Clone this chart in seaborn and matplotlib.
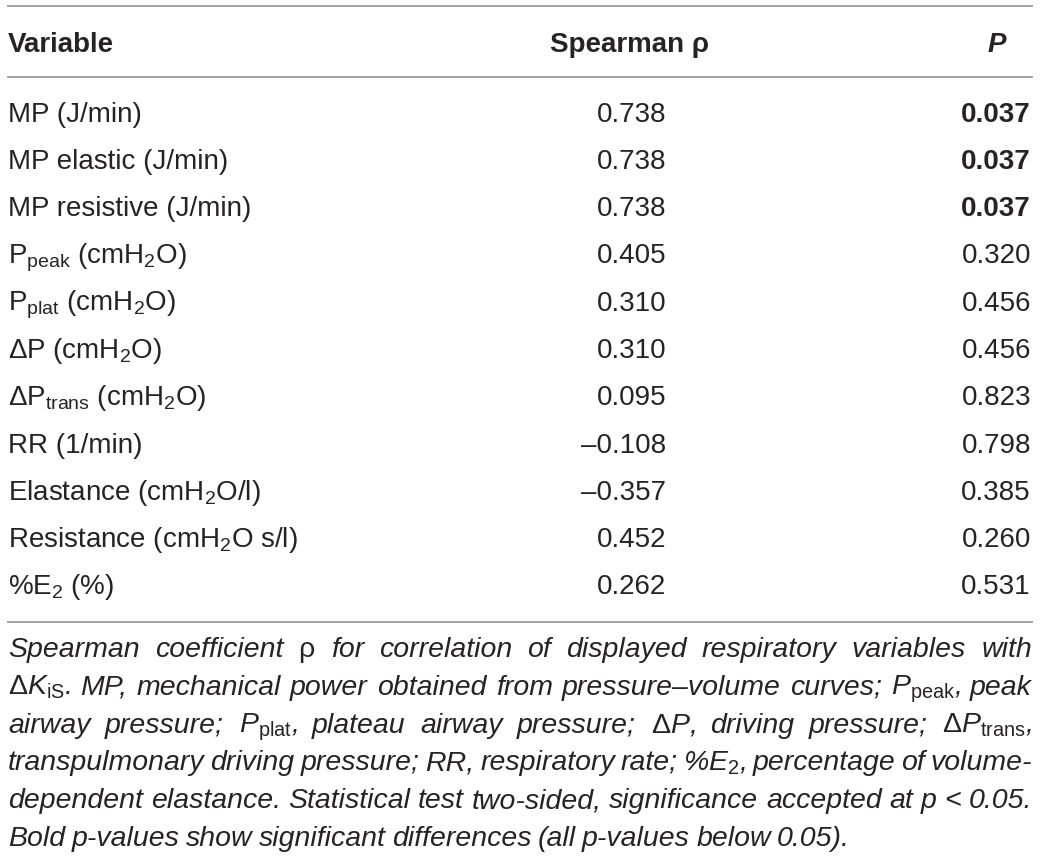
import matplotlib
matplotlib.use("Agg")
import matplotlib.pyplot as plt
import seaborn as sns
import pandas as pd
from matplotlib import font_manager

# ---------------- data ----------------
variables = [
    "MP (J/min)",
    "MP elastic (J/min)",
    "MP resistive (J/min)",
    r"P$_{\mathrm{peak}}$ (cmH$_2$O)",
    r"P$_{\mathrm{plat}}$ (cmH$_2$O)",
    r"$\mathrm{\Delta}$P (cmH$_2$O)",
    r"$\mathrm{\Delta}$P$_{\mathrm{trans}}$ (cmH$_2$O)",
    "RR (1/min)",
    r"Elastance (cmH$_2$O/l)",
    r"Resistance (cmH$_2$O s/l)",
    r"%E$_2$ (%)",
]
spearman = ["0.738", "0.738", "0.738", "0.405", "0.310", "0.310", "0.095",
            "\u20130.108", "\u20130.357", "0.452", "0.262"]
p_values = ["0.037", "0.037", "0.037", "0.320", "0.456", "0.456", "0.823",
            "0.798", "0.385", "0.260", "0.531"]
headers = ["Variable", "Spearman \u03c1", "P"]

caption_lines = [
    "Spearman coefficient $\\mathrm{\\rho}$ for correlation of displayed respiratory variables with",
    "$\\mathrm{\\Delta}$K$_{\\mathrm{iS}}$. MP, mechanical power obtained from pressure\u2013volume curves; P$_{\\mathrm{peak}}$, peak",
    "airway pressure; P$_{\\mathrm{plat}}$, plateau airway pressure; $\\mathrm{\\Delta}$P, driving pressure; $\\mathrm{\\Delta}$P$_{\\mathrm{trans}}$,",
    "transpulmonary driving pressure; RR, respiratory rate; %E$_2$, percentage of volume-",
    "dependent elastance. Statistical test two-sided, significance accepted at p < 0.05.",
    "Bold p-values show significant differences (all p-values below 0.05).",
]

df = pd.DataFrame({"variable": variables, "rho": spearman, "p": p_values})

# ---------------- style ----------------
sns.set_theme(style="white")
installed = {f.name for f in font_manager.fontManager.ttflist}
body_font = "Liberation Sans" if "Liberation Sans" in installed else "DejaVu Sans"
cap_font = body_font
plt.rcParams["font.family"] = [body_font, "DejaVu Sans"]
plt.rcParams["mathtext.fontset"] = "custom"
plt.rcParams["mathtext.rm"] = body_font
plt.rcParams["mathtext.it"] = body_font + ":italic"
plt.rcParams["mathtext.bf"] = body_font + ":bold"

TXT = "#262324"
RULE = "#9b9b9b"
W, H = 1041, 857
fig = plt.figure(figsize=(W / 100, H / 100), dpi=100)
ax = fig.add_axes([0, 0, 1, 1])
ax.set_xlim(0, W)
ax.set_ylim(H, 0)
ax.axis("off")

FS = 20
X_LEFT, X_RHO, X_P = 8, 666, 1031
X_RHO_HEAD, X_P_HEAD = 630, 997

# rules
for y in (6, 77, 622):
    ax.plot([7, 1033], [y, y], color=RULE, lw=1.3, solid_capstyle="butt")

# header
ax.text(X_LEFT, 51.5, headers[0], fontsize=FS, fontweight="bold", color=TXT, va="baseline", ha="left")
ax.text(X_RHO_HEAD, 51.5, headers[1], fontsize=FS, fontweight="bold", color=TXT, va="baseline", ha="center")
ax.text(X_P_HEAD, 51.5, headers[2], fontsize=FS, fontweight="bold", fontstyle="italic", color=TXT,
        va="baseline", ha="center")

# rows
for i, row in df.iterrows():
    yb = 121.5 + 47.3 * i
    ax.text(X_LEFT, yb, row["variable"], fontsize=FS, color=TXT, va="baseline", ha="left")
    ax.text(X_RHO, yb, row["rho"], fontsize=FS, color=TXT, va="baseline", ha="right")
    bold = float(row["p"]) < 0.05
    ax.text(X_P, yb, row["p"], fontsize=FS, color=TXT, va="baseline", ha="right",
            fontweight="bold" if bold else "normal")

# caption, justified
renderer = fig.canvas.get_renderer()


def width_of(s, size):
    t = ax.text(0, 0, s, fontsize=size, fontstyle="italic", family=[cap_font, "DejaVu Sans"])
    bb = t.get_window_extent(renderer)
    t.remove()
    return bb.width


CAP_FS = 20.5
LINE_W = 1024
while True:
    ok = True
    sp = width_of("x x", CAP_FS) - width_of("xx", CAP_FS)
    for line in caption_lines[:-1]:
        words = line.split(" ")
        tot = sum(width_of(w, CAP_FS) for w in words) + sp * 0.55 * (len(words) - 1)
        if tot > LINE_W:
            ok = False
            break
    if ok:
        break
    CAP_FS -= 0.25

sp = width_of("x x", CAP_FS) - width_of("xx", CAP_FS)
for k, line in enumerate(caption_lines):
    yb = 657 + 37.8 * k
    words = line.split(" ")
    widths = [width_of(w, CAP_FS) for w in words]
    if k < len(caption_lines) - 1:
        gap = (LINE_W - sum(widths)) / (len(words) - 1)
    else:
        gap = sp * 0.8
    x = X_LEFT
    for w, wd in zip(words, widths):
        ax.text(x, yb, w, fontsize=CAP_FS, fontstyle="italic", family=[cap_font, "DejaVu Sans"],
                color=TXT, va="baseline", ha="left")
        x += wd + gap

fig.savefig("out.png", dpi=100)
